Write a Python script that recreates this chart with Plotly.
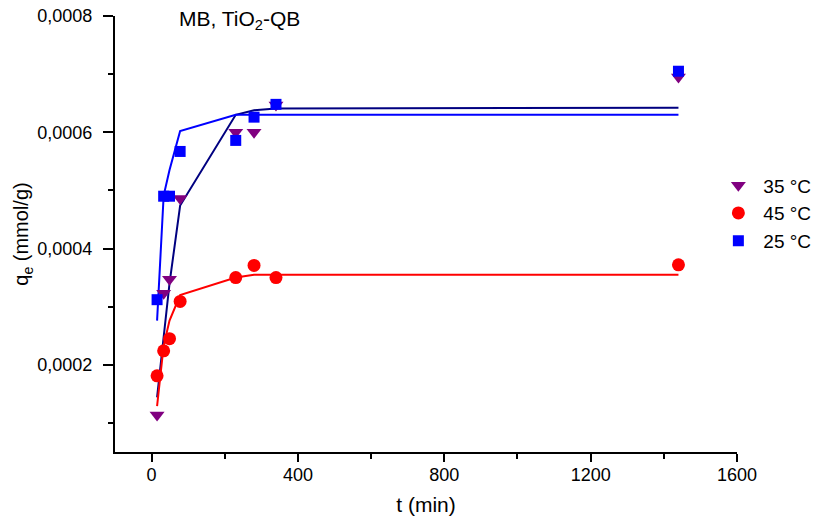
import plotly.graph_objects as go

t_min = [15, 33, 49, 78, 230, 280, 340, 1440]

q_35 = [0.0001135, 0.000323, 0.000347, 0.000486, 0.000600, 0.000600, 0.000647, 0.000695]
q_45 = [0.000181, 0.000224, 0.000245, 0.000309, 0.000350, 0.000371, 0.000350, 0.000372]
q_25 = [0.000312, 0.000490, 0.000490, 0.000567, 0.000586, 0.000626, 0.000648, 0.000705]

fit_35 = [0.000144, 0.000248, 0.000340, 0.000474, 0.000630, 0.000638, 0.000641, 0.000642]
fit_45 = [0.000129, 0.000233, 0.000276, 0.000320, 0.000350, 0.000355, 0.000355, 0.000355]
fit_25 = [0.000276, 0.000491, 0.000535, 0.000602, 0.000630, 0.000630, 0.000630, 0.000630]

series_names = ["35 °C", "45 °C", "25 °C"]
x_ticks = [0, 400, 800, 1200, 1600]
y_ticks = [0.0002, 0.0004, 0.0006, 0.0008]

FONT = "Liberation Sans, Arial, sans-serif"

fig = go.Figure()

# fitted curves
fig.add_trace(go.Scatter(x=t_min, y=fit_35, mode="lines", line=dict(color="#000080", width=2), showlegend=False, hoverinfo="skip"))
fig.add_trace(go.Scatter(x=t_min, y=fit_25, mode="lines", line=dict(color="#0000FF", width=2), showlegend=False, hoverinfo="skip"))
fig.add_trace(go.Scatter(x=t_min, y=fit_45, mode="lines", line=dict(color="#FF0000", width=2), showlegend=False, hoverinfo="skip"))

# experimental points
fig.add_trace(go.Scatter(x=t_min, y=q_35, mode="markers", name=series_names[0],
                         marker=dict(symbol="triangle-down", size=13, color="#800080", line=dict(width=0))))
fig.add_trace(go.Scatter(x=t_min, y=q_45, mode="markers", name=series_names[1],
                         marker=dict(symbol="circle", size=13, color="#FF0000", line=dict(width=0))))
fig.add_trace(go.Scatter(x=t_min, y=q_25, mode="markers", name=series_names[2],
                         marker=dict(symbol="square", size=11, color="#0000FF", line=dict(width=0))))

fig.add_annotation(text="MB, TiO<sub>2</sub>-QB", xref="paper", yref="paper",
                   x=0.1, y=0.99, xanchor="left", yanchor="middle", showarrow=False,
                   font=dict(family=FONT, size=21, color="black"))

axis_common = dict(showgrid=False, zeroline=False, showline=True, linecolor="black", linewidth=2,
                   ticks="outside", tickwidth=2, tickcolor="black", automargin=False,
                   ticklabeloverflow="allow",
                   tickfont=dict(family=FONT, size=18, color="black"), mirror=False)

fig.update_layout(
    width=828, height=523,
    margin=dict(l=115, r=86, t=16, b=71),
    paper_bgcolor="white", plot_bgcolor="white",
    separators=",.",
    font=dict(family=FONT, color="black"),
    xaxis=dict(range=[-100, 1600], tickvals=x_ticks, ticklen=8, ticklabelstandoff=-3,
               minor=dict(ticks="outside", ticklen=5, tickwidth=2, tickcolor="black", dtick=200, tick0=0),
               title=dict(text="t (min)", font=dict(family=FONT, size=21), standoff=14),
               **axis_common),
    yaxis=dict(range=[0.00005, 0.0008], tickvals=y_ticks, tickformat=".4f", ticklen=10, ticklabelstandoff=7,
               minor=dict(ticks="outside", ticklen=5, tickwidth=2, tickcolor="black", dtick=0.0001, tick0=0),
               title=dict(text="q<sub>e</sub> (mmol/g)", font=dict(family=FONT, size=20), standoff=3),
               **axis_common),
    legend=dict(x=0.962, y=0.655, xanchor="left", yanchor="top", bgcolor="rgba(0,0,0,0)",
                font=dict(family=FONT, size=19, color="black"), itemwidth=40, tracegroupgap=0),
    showlegend=True,
)

fig.write_html("out.html", config={"displayModeBar": False, "responsive": False},
               post_script="document.body.style.margin='0';document.body.style.overflow='hidden';")
